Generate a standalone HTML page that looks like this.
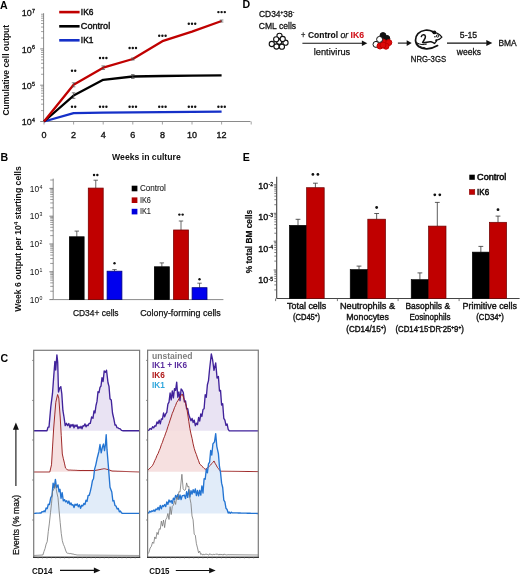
<!DOCTYPE html>
<html><head><meta charset="utf-8"><title>Figure</title>
<style>
html,body{margin:0;padding:0;background:#fff;}
body{width:520px;height:574px;overflow:hidden;}
svg{display:block;font-family:"Liberation Sans", sans-serif;filter:blur(0.3px);}
</style></head>
<body>
<svg width="520" height="574" viewBox="0 0 520 574">
<rect x="0" y="0" width="520" height="574" fill="#fff"/>
<text x="0" y="8.6" font-size="10.6" font-weight="bold" fill="#000">A</text>
<text x="0.6" y="160.6" font-size="10.6" font-weight="bold" fill="#000">B</text>
<text x="0.4" y="361.7" font-size="10.6" font-weight="bold" fill="#000">C</text>
<text x="242.6" y="8.2" font-size="10.6" font-weight="bold" fill="#000">D</text>
<text x="242.8" y="160.8" font-size="10.6" font-weight="bold" fill="#000">E</text>
<line x1="43.60" y1="13.20" x2="43.60" y2="121.50" stroke="#8a8a8a" stroke-width="1"/>
<line x1="43.60" y1="121.50" x2="250.50" y2="121.50" stroke="#8a8a8a" stroke-width="1"/>
<line x1="40.20" y1="121.50" x2="43.60" y2="121.50" stroke="#6a6a6a" stroke-width="0.8"/>
<line x1="41.00" y1="110.57" x2="43.60" y2="110.57" stroke="#6a6a6a" stroke-width="0.6"/>
<line x1="41.00" y1="104.18" x2="43.60" y2="104.18" stroke="#6a6a6a" stroke-width="0.6"/>
<line x1="41.00" y1="99.65" x2="43.60" y2="99.65" stroke="#6a6a6a" stroke-width="0.6"/>
<line x1="41.00" y1="96.13" x2="43.60" y2="96.13" stroke="#6a6a6a" stroke-width="0.6"/>
<line x1="41.00" y1="93.25" x2="43.60" y2="93.25" stroke="#6a6a6a" stroke-width="0.6"/>
<line x1="41.00" y1="90.82" x2="43.60" y2="90.82" stroke="#6a6a6a" stroke-width="0.6"/>
<line x1="41.00" y1="88.72" x2="43.60" y2="88.72" stroke="#6a6a6a" stroke-width="0.6"/>
<line x1="41.00" y1="86.86" x2="43.60" y2="86.86" stroke="#6a6a6a" stroke-width="0.6"/>
<line x1="40.20" y1="85.20" x2="43.60" y2="85.20" stroke="#6a6a6a" stroke-width="0.8"/>
<line x1="41.00" y1="74.27" x2="43.60" y2="74.27" stroke="#6a6a6a" stroke-width="0.6"/>
<line x1="41.00" y1="67.88" x2="43.60" y2="67.88" stroke="#6a6a6a" stroke-width="0.6"/>
<line x1="41.00" y1="63.35" x2="43.60" y2="63.35" stroke="#6a6a6a" stroke-width="0.6"/>
<line x1="41.00" y1="59.83" x2="43.60" y2="59.83" stroke="#6a6a6a" stroke-width="0.6"/>
<line x1="41.00" y1="56.95" x2="43.60" y2="56.95" stroke="#6a6a6a" stroke-width="0.6"/>
<line x1="41.00" y1="54.52" x2="43.60" y2="54.52" stroke="#6a6a6a" stroke-width="0.6"/>
<line x1="41.00" y1="52.42" x2="43.60" y2="52.42" stroke="#6a6a6a" stroke-width="0.6"/>
<line x1="41.00" y1="50.56" x2="43.60" y2="50.56" stroke="#6a6a6a" stroke-width="0.6"/>
<line x1="40.20" y1="48.90" x2="43.60" y2="48.90" stroke="#6a6a6a" stroke-width="0.8"/>
<line x1="41.00" y1="37.97" x2="43.60" y2="37.97" stroke="#6a6a6a" stroke-width="0.6"/>
<line x1="41.00" y1="31.58" x2="43.60" y2="31.58" stroke="#6a6a6a" stroke-width="0.6"/>
<line x1="41.00" y1="27.05" x2="43.60" y2="27.05" stroke="#6a6a6a" stroke-width="0.6"/>
<line x1="41.00" y1="23.53" x2="43.60" y2="23.53" stroke="#6a6a6a" stroke-width="0.6"/>
<line x1="41.00" y1="20.65" x2="43.60" y2="20.65" stroke="#6a6a6a" stroke-width="0.6"/>
<line x1="41.00" y1="18.22" x2="43.60" y2="18.22" stroke="#6a6a6a" stroke-width="0.6"/>
<line x1="41.00" y1="16.12" x2="43.60" y2="16.12" stroke="#6a6a6a" stroke-width="0.6"/>
<line x1="41.00" y1="14.26" x2="43.60" y2="14.26" stroke="#6a6a6a" stroke-width="0.6"/>
<line x1="44.00" y1="121.50" x2="44.00" y2="124.50" stroke="#8a8a8a" stroke-width="0.8"/>
<line x1="73.60" y1="121.50" x2="73.60" y2="124.50" stroke="#8a8a8a" stroke-width="0.8"/>
<line x1="103.20" y1="121.50" x2="103.20" y2="124.50" stroke="#8a8a8a" stroke-width="0.8"/>
<line x1="132.80" y1="121.50" x2="132.80" y2="124.50" stroke="#8a8a8a" stroke-width="0.8"/>
<line x1="162.40" y1="121.50" x2="162.40" y2="124.50" stroke="#8a8a8a" stroke-width="0.8"/>
<line x1="192.00" y1="121.50" x2="192.00" y2="124.50" stroke="#8a8a8a" stroke-width="0.8"/>
<line x1="221.60" y1="121.50" x2="221.60" y2="124.50" stroke="#8a8a8a" stroke-width="0.8"/>
<line x1="251.20" y1="121.50" x2="251.20" y2="124.50" stroke="#8a8a8a" stroke-width="0.8"/>
<text x="44.0" y="137.9" font-size="9.0" font-weight="normal" font-style="normal" text-anchor="middle" fill="#111" stroke="#111" stroke-width="0.35">0</text>
<text x="73.6" y="137.9" font-size="9.0" font-weight="normal" font-style="normal" text-anchor="middle" fill="#111" stroke="#111" stroke-width="0.35">2</text>
<text x="103.2" y="137.9" font-size="9.0" font-weight="normal" font-style="normal" text-anchor="middle" fill="#111" stroke="#111" stroke-width="0.35">4</text>
<text x="132.8" y="137.9" font-size="9.0" font-weight="normal" font-style="normal" text-anchor="middle" fill="#111" stroke="#111" stroke-width="0.35">6</text>
<text x="162.4" y="137.9" font-size="9.0" font-weight="normal" font-style="normal" text-anchor="middle" fill="#111" stroke="#111" stroke-width="0.35">8</text>
<text x="192.0" y="137.9" font-size="9.0" font-weight="normal" font-style="normal" text-anchor="middle" fill="#111" stroke="#111" stroke-width="0.35">10</text>
<text x="221.6" y="137.9" font-size="9.0" font-weight="normal" font-style="normal" text-anchor="middle" fill="#111" stroke="#111" stroke-width="0.35">12</text>
<text x="31.8" y="16.3" font-size="9.0" text-anchor="end" fill="#111" stroke="#111" stroke-width="0.3">10</text>
<text x="32.1" y="12.9" font-size="5.3" fill="#111" stroke="#111" stroke-width="0.3">7</text>
<text x="31.8" y="52.599999999999994" font-size="9.0" text-anchor="end" fill="#111" stroke="#111" stroke-width="0.3">10</text>
<text x="32.1" y="49.199999999999996" font-size="5.3" fill="#111" stroke="#111" stroke-width="0.3">6</text>
<text x="31.8" y="88.89999999999999" font-size="9.0" text-anchor="end" fill="#111" stroke="#111" stroke-width="0.3">10</text>
<text x="32.1" y="85.49999999999999" font-size="5.3" fill="#111" stroke="#111" stroke-width="0.3">5</text>
<text x="31.8" y="125.3" font-size="9.0" text-anchor="end" fill="#111" stroke="#111" stroke-width="0.3">10</text>
<text x="32.1" y="121.89999999999999" font-size="5.3" fill="#111" stroke="#111" stroke-width="0.3">4</text>
<text x="112.1" y="160.1" font-size="9.29" font-weight="bold" font-style="normal" text-anchor="start" fill="#111" textLength="68.6" lengthAdjust="spacingAndGlyphs">Weeks in culture</text>
<text transform="translate(8.6,115.5) rotate(-90)" font-size="9.2" font-weight="bold" fill="#111" textLength="90.6" lengthAdjust="spacingAndGlyphs">Cumulative cell output</text>
<polyline points="44.00,121.50 73.60,113.20 103.20,112.60 132.80,112.30 162.40,112.10 192.00,111.90 221.60,111.70" fill="none" stroke="#1530c8" stroke-width="2.3" stroke-linejoin="round"/>
<polyline points="44.00,121.50 73.60,95.60 103.20,79.80 132.80,76.50 162.40,76.00 192.00,75.70 221.60,75.40" fill="none" stroke="#000000" stroke-width="2.3" stroke-linejoin="round"/>
<polyline points="44.00,121.50 73.60,84.80 103.20,67.70 132.80,59.00 162.40,41.20 192.00,31.70 221.60,21.00" fill="none" stroke="#c00000" stroke-width="2.3" stroke-linejoin="round"/>
<line x1="73.60" y1="82.80" x2="73.60" y2="86.80" stroke="#555" stroke-width="0.7"/>
<line x1="71.80" y1="82.80" x2="75.40" y2="82.80" stroke="#555" stroke-width="0.7"/>
<line x1="71.80" y1="86.80" x2="75.40" y2="86.80" stroke="#555" stroke-width="0.7"/>
<line x1="103.20" y1="65.90" x2="103.20" y2="69.50" stroke="#555" stroke-width="0.7"/>
<line x1="101.40" y1="65.90" x2="105.00" y2="65.90" stroke="#555" stroke-width="0.7"/>
<line x1="101.40" y1="69.50" x2="105.00" y2="69.50" stroke="#555" stroke-width="0.7"/>
<line x1="132.80" y1="58.00" x2="132.80" y2="60.00" stroke="#555" stroke-width="0.7"/>
<line x1="131.00" y1="58.00" x2="134.60" y2="58.00" stroke="#555" stroke-width="0.7"/>
<line x1="131.00" y1="60.00" x2="134.60" y2="60.00" stroke="#555" stroke-width="0.7"/>
<line x1="221.60" y1="20.00" x2="221.60" y2="22.00" stroke="#555" stroke-width="0.7"/>
<line x1="219.80" y1="20.00" x2="223.40" y2="20.00" stroke="#555" stroke-width="0.7"/>
<line x1="219.80" y1="22.00" x2="223.40" y2="22.00" stroke="#555" stroke-width="0.7"/>
<line x1="73.60" y1="92.80" x2="73.60" y2="98.40" stroke="#555" stroke-width="0.7"/>
<line x1="71.80" y1="92.80" x2="75.40" y2="92.80" stroke="#555" stroke-width="0.7"/>
<line x1="71.80" y1="98.40" x2="75.40" y2="98.40" stroke="#555" stroke-width="0.7"/>
<line x1="132.80" y1="74.50" x2="132.80" y2="78.50" stroke="#555" stroke-width="0.7"/>
<line x1="131.00" y1="74.50" x2="134.60" y2="74.50" stroke="#555" stroke-width="0.7"/>
<line x1="131.00" y1="78.50" x2="134.60" y2="78.50" stroke="#555" stroke-width="0.7"/>
<circle cx="72.00" cy="70.80" r="1.2" fill="#111"/>
<circle cx="75.20" cy="70.80" r="1.2" fill="#111"/>
<circle cx="100.00" cy="58.00" r="1.2" fill="#111"/>
<circle cx="103.20" cy="58.00" r="1.2" fill="#111"/>
<circle cx="106.40" cy="58.00" r="1.2" fill="#111"/>
<circle cx="129.60" cy="48.00" r="1.2" fill="#111"/>
<circle cx="132.80" cy="48.00" r="1.2" fill="#111"/>
<circle cx="136.00" cy="48.00" r="1.2" fill="#111"/>
<circle cx="159.20" cy="35.80" r="1.2" fill="#111"/>
<circle cx="162.40" cy="35.80" r="1.2" fill="#111"/>
<circle cx="165.60" cy="35.80" r="1.2" fill="#111"/>
<circle cx="188.80" cy="23.70" r="1.2" fill="#111"/>
<circle cx="192.00" cy="23.70" r="1.2" fill="#111"/>
<circle cx="195.20" cy="23.70" r="1.2" fill="#111"/>
<circle cx="218.40" cy="12.10" r="1.2" fill="#111"/>
<circle cx="221.60" cy="12.10" r="1.2" fill="#111"/>
<circle cx="224.80" cy="12.10" r="1.2" fill="#111"/>
<circle cx="72.00" cy="106.80" r="1.2" fill="#111"/>
<circle cx="75.20" cy="106.80" r="1.2" fill="#111"/>
<circle cx="100.00" cy="106.80" r="1.2" fill="#111"/>
<circle cx="103.20" cy="106.80" r="1.2" fill="#111"/>
<circle cx="106.40" cy="106.80" r="1.2" fill="#111"/>
<circle cx="129.60" cy="106.80" r="1.2" fill="#111"/>
<circle cx="132.80" cy="106.80" r="1.2" fill="#111"/>
<circle cx="136.00" cy="106.80" r="1.2" fill="#111"/>
<circle cx="159.20" cy="106.80" r="1.2" fill="#111"/>
<circle cx="162.40" cy="106.80" r="1.2" fill="#111"/>
<circle cx="165.60" cy="106.80" r="1.2" fill="#111"/>
<circle cx="188.80" cy="106.80" r="1.2" fill="#111"/>
<circle cx="192.00" cy="106.80" r="1.2" fill="#111"/>
<circle cx="195.20" cy="106.80" r="1.2" fill="#111"/>
<circle cx="218.40" cy="106.80" r="1.2" fill="#111"/>
<circle cx="221.60" cy="106.80" r="1.2" fill="#111"/>
<circle cx="224.80" cy="106.80" r="1.2" fill="#111"/>
<line x1="59.20" y1="12.10" x2="79.60" y2="12.10" stroke="#c00000" stroke-width="2.6"/>
<text x="80.8" y="15.2" font-size="9.5" font-weight="normal" font-style="normal" text-anchor="start" fill="#111" textLength="12.6" lengthAdjust="spacingAndGlyphs" stroke="#111" stroke-width="0.45">IK6</text>
<line x1="59.20" y1="26.30" x2="79.60" y2="26.30" stroke="#000000" stroke-width="2.6"/>
<text x="80.8" y="29.400000000000002" font-size="9.5" font-weight="normal" font-style="normal" text-anchor="start" fill="#111" textLength="29.4" lengthAdjust="spacingAndGlyphs" stroke="#111" stroke-width="0.45">Control</text>
<line x1="59.20" y1="40.30" x2="79.60" y2="40.30" stroke="#1530c8" stroke-width="2.6"/>
<text x="80.8" y="43.4" font-size="9.5" font-weight="normal" font-style="normal" text-anchor="start" fill="#111" textLength="12.6" lengthAdjust="spacingAndGlyphs" stroke="#111" stroke-width="0.45">IK1</text>
<line x1="53.20" y1="178.60" x2="53.20" y2="299.60" stroke="#8a8a8a" stroke-width="1"/>
<line x1="53.20" y1="299.60" x2="223.40" y2="299.60" stroke="#8a8a8a" stroke-width="1"/>
<line x1="49.40" y1="299.60" x2="53.20" y2="299.60" stroke="#5a5a5a" stroke-width="0.8"/>
<line x1="50.20" y1="291.23" x2="53.20" y2="291.23" stroke="#5a5a5a" stroke-width="0.6"/>
<line x1="50.20" y1="286.34" x2="53.20" y2="286.34" stroke="#5a5a5a" stroke-width="0.6"/>
<line x1="50.20" y1="282.86" x2="53.20" y2="282.86" stroke="#5a5a5a" stroke-width="0.6"/>
<line x1="50.20" y1="280.17" x2="53.20" y2="280.17" stroke="#5a5a5a" stroke-width="0.6"/>
<line x1="50.20" y1="277.97" x2="53.20" y2="277.97" stroke="#5a5a5a" stroke-width="0.6"/>
<line x1="50.20" y1="276.11" x2="53.20" y2="276.11" stroke="#5a5a5a" stroke-width="0.6"/>
<line x1="50.20" y1="274.49" x2="53.20" y2="274.49" stroke="#5a5a5a" stroke-width="0.6"/>
<line x1="50.20" y1="273.07" x2="53.20" y2="273.07" stroke="#5a5a5a" stroke-width="0.6"/>
<line x1="49.40" y1="271.80" x2="53.20" y2="271.80" stroke="#5a5a5a" stroke-width="0.8"/>
<line x1="50.20" y1="263.43" x2="53.20" y2="263.43" stroke="#5a5a5a" stroke-width="0.6"/>
<line x1="50.20" y1="258.54" x2="53.20" y2="258.54" stroke="#5a5a5a" stroke-width="0.6"/>
<line x1="50.20" y1="255.06" x2="53.20" y2="255.06" stroke="#5a5a5a" stroke-width="0.6"/>
<line x1="50.20" y1="252.37" x2="53.20" y2="252.37" stroke="#5a5a5a" stroke-width="0.6"/>
<line x1="50.20" y1="250.17" x2="53.20" y2="250.17" stroke="#5a5a5a" stroke-width="0.6"/>
<line x1="50.20" y1="248.31" x2="53.20" y2="248.31" stroke="#5a5a5a" stroke-width="0.6"/>
<line x1="50.20" y1="246.69" x2="53.20" y2="246.69" stroke="#5a5a5a" stroke-width="0.6"/>
<line x1="50.20" y1="245.27" x2="53.20" y2="245.27" stroke="#5a5a5a" stroke-width="0.6"/>
<line x1="49.40" y1="244.00" x2="53.20" y2="244.00" stroke="#5a5a5a" stroke-width="0.8"/>
<line x1="50.20" y1="235.63" x2="53.20" y2="235.63" stroke="#5a5a5a" stroke-width="0.6"/>
<line x1="50.20" y1="230.74" x2="53.20" y2="230.74" stroke="#5a5a5a" stroke-width="0.6"/>
<line x1="50.20" y1="227.26" x2="53.20" y2="227.26" stroke="#5a5a5a" stroke-width="0.6"/>
<line x1="50.20" y1="224.57" x2="53.20" y2="224.57" stroke="#5a5a5a" stroke-width="0.6"/>
<line x1="50.20" y1="222.37" x2="53.20" y2="222.37" stroke="#5a5a5a" stroke-width="0.6"/>
<line x1="50.20" y1="220.51" x2="53.20" y2="220.51" stroke="#5a5a5a" stroke-width="0.6"/>
<line x1="50.20" y1="218.89" x2="53.20" y2="218.89" stroke="#5a5a5a" stroke-width="0.6"/>
<line x1="50.20" y1="217.47" x2="53.20" y2="217.47" stroke="#5a5a5a" stroke-width="0.6"/>
<line x1="49.40" y1="216.20" x2="53.20" y2="216.20" stroke="#5a5a5a" stroke-width="0.8"/>
<line x1="50.20" y1="207.83" x2="53.20" y2="207.83" stroke="#5a5a5a" stroke-width="0.6"/>
<line x1="50.20" y1="202.94" x2="53.20" y2="202.94" stroke="#5a5a5a" stroke-width="0.6"/>
<line x1="50.20" y1="199.46" x2="53.20" y2="199.46" stroke="#5a5a5a" stroke-width="0.6"/>
<line x1="50.20" y1="196.77" x2="53.20" y2="196.77" stroke="#5a5a5a" stroke-width="0.6"/>
<line x1="50.20" y1="194.57" x2="53.20" y2="194.57" stroke="#5a5a5a" stroke-width="0.6"/>
<line x1="50.20" y1="192.71" x2="53.20" y2="192.71" stroke="#5a5a5a" stroke-width="0.6"/>
<line x1="50.20" y1="191.09" x2="53.20" y2="191.09" stroke="#5a5a5a" stroke-width="0.6"/>
<line x1="50.20" y1="189.67" x2="53.20" y2="189.67" stroke="#5a5a5a" stroke-width="0.6"/>
<line x1="49.40" y1="188.40" x2="53.20" y2="188.40" stroke="#5a5a5a" stroke-width="0.8"/>
<line x1="50.20" y1="180.03" x2="53.20" y2="180.03" stroke="#5a5a5a" stroke-width="0.6"/>
<text x="39.2" y="302.8" font-size="8.4" text-anchor="end" fill="#111">10</text>
<text x="39.5" y="299.8" font-size="5.2" fill="#111">0</text>
<text x="39.2" y="275.0" font-size="8.4" text-anchor="end" fill="#111">10</text>
<text x="39.5" y="272.0" font-size="5.2" fill="#111">1</text>
<text x="39.2" y="247.20000000000002" font-size="8.4" text-anchor="end" fill="#111">10</text>
<text x="39.5" y="244.20000000000002" font-size="5.2" fill="#111">2</text>
<text x="39.2" y="219.4" font-size="8.4" text-anchor="end" fill="#111">10</text>
<text x="39.5" y="216.4" font-size="5.2" fill="#111">3</text>
<text x="39.2" y="191.60000000000002" font-size="8.4" text-anchor="end" fill="#111">10</text>
<text x="39.5" y="188.60000000000002" font-size="5.2" fill="#111">4</text>
<line x1="76.80" y1="231.10" x2="76.80" y2="236.80" stroke="#444" stroke-width="0.8"/>
<line x1="74.60" y1="231.10" x2="79.00" y2="231.10" stroke="#444" stroke-width="0.8"/>
<rect x="69.50" y="236.80" width="14.60" height="62.80" fill="#000" stroke="#000" stroke-width="0.8"/>
<line x1="95.75" y1="180.20" x2="95.75" y2="188.10" stroke="#444" stroke-width="0.8"/>
<line x1="93.55" y1="180.20" x2="97.95" y2="180.20" stroke="#444" stroke-width="0.8"/>
<rect x="88.30" y="188.10" width="14.90" height="111.50" fill="#c00000" stroke="#7a0000" stroke-width="0.8"/>
<line x1="114.50" y1="269.60" x2="114.50" y2="271.20" stroke="#444" stroke-width="0.8"/>
<line x1="112.30" y1="269.60" x2="116.70" y2="269.60" stroke="#444" stroke-width="0.8"/>
<rect x="107.10" y="271.20" width="14.80" height="28.40" fill="#0000ee" stroke="#000080" stroke-width="0.8"/>
<line x1="161.85" y1="262.90" x2="161.85" y2="266.80" stroke="#444" stroke-width="0.8"/>
<line x1="159.65" y1="262.90" x2="164.05" y2="262.90" stroke="#444" stroke-width="0.8"/>
<rect x="154.40" y="266.80" width="14.90" height="32.80" fill="#000" stroke="#000" stroke-width="0.8"/>
<line x1="181.00" y1="221.00" x2="181.00" y2="230.00" stroke="#444" stroke-width="0.8"/>
<line x1="178.80" y1="221.00" x2="183.20" y2="221.00" stroke="#444" stroke-width="0.8"/>
<rect x="173.60" y="230.00" width="14.80" height="69.60" fill="#c00000" stroke="#7a0000" stroke-width="0.8"/>
<line x1="199.55" y1="283.20" x2="199.55" y2="287.70" stroke="#444" stroke-width="0.8"/>
<line x1="197.35" y1="283.20" x2="201.75" y2="283.20" stroke="#444" stroke-width="0.8"/>
<rect x="192.10" y="287.70" width="14.90" height="11.90" fill="#0000ee" stroke="#000080" stroke-width="0.8"/>
<circle cx="94.05" cy="175.00" r="1.2" fill="#111"/>
<circle cx="97.35" cy="175.00" r="1.2" fill="#111"/>
<circle cx="114.50" cy="263.20" r="1.2" fill="#111"/>
<circle cx="179.35" cy="214.60" r="1.2" fill="#111"/>
<circle cx="182.65" cy="214.60" r="1.2" fill="#111"/>
<circle cx="199.50" cy="279.30" r="1.2" fill="#111"/>
<rect x="131.70" y="185.70" width="5.70" height="5.60" fill="#000"/>
<text x="139.9" y="191.1" font-size="8.42" font-weight="normal" font-style="normal" text-anchor="start" fill="#222" textLength="26.0" lengthAdjust="spacingAndGlyphs" stroke="#222" stroke-width="0.1">Control</text>
<rect x="131.70" y="197.40" width="5.70" height="5.60" fill="#b00000"/>
<text x="139.9" y="202.79999999999998" font-size="8.42" font-weight="normal" font-style="normal" text-anchor="start" fill="#222" textLength="11.0" lengthAdjust="spacingAndGlyphs" stroke="#222" stroke-width="0.1">IK6</text>
<rect x="131.70" y="208.80" width="5.70" height="5.60" fill="#0000dd"/>
<text x="139.9" y="214.2" font-size="8.42" font-weight="normal" font-style="normal" text-anchor="start" fill="#222" textLength="11.0" lengthAdjust="spacingAndGlyphs" stroke="#222" stroke-width="0.1">IK1</text>
<text x="72.9" y="315.7" font-size="9.29" font-weight="normal" font-style="normal" text-anchor="start" fill="#111" textLength="45.7" lengthAdjust="spacingAndGlyphs" stroke="#111" stroke-width="0.25">CD34+ cells</text>
<text x="140.2" y="316.4" font-size="9.29" font-weight="normal" font-style="normal" text-anchor="start" fill="#111" textLength="80.6" lengthAdjust="spacingAndGlyphs" stroke="#111" stroke-width="0.25">Colony-forming cells</text>
<text transform="translate(21.4,311.8) rotate(-90)" font-size="8.3" font-weight="bold" fill="#111" textLength="145.6" lengthAdjust="spacingAndGlyphs">Week 6 output per 10<tspan dy="-3" font-size="5.5">4</tspan><tspan dy="3"> starting cells</tspan></text>
<line x1="276.70" y1="176.80" x2="276.70" y2="298.50" stroke="#444" stroke-width="1.1"/>
<line x1="276.70" y1="298.50" x2="519.60" y2="298.50" stroke="#444" stroke-width="1.1"/>
<line x1="273.70" y1="184.80" x2="276.70" y2="184.80" stroke="#555" stroke-width="0.9"/>
<line x1="274.30" y1="204.72" x2="276.70" y2="204.72" stroke="#555" stroke-width="0.75"/>
<line x1="274.30" y1="199.70" x2="276.70" y2="199.70" stroke="#555" stroke-width="0.75"/>
<line x1="274.30" y1="196.14" x2="276.70" y2="196.14" stroke="#555" stroke-width="0.75"/>
<line x1="274.30" y1="193.38" x2="276.70" y2="193.38" stroke="#555" stroke-width="0.75"/>
<line x1="274.30" y1="191.12" x2="276.70" y2="191.12" stroke="#555" stroke-width="0.75"/>
<line x1="274.30" y1="189.21" x2="276.70" y2="189.21" stroke="#555" stroke-width="0.75"/>
<line x1="274.30" y1="187.56" x2="276.70" y2="187.56" stroke="#555" stroke-width="0.75"/>
<line x1="274.30" y1="186.10" x2="276.70" y2="186.10" stroke="#555" stroke-width="0.75"/>
<line x1="273.70" y1="213.30" x2="276.70" y2="213.30" stroke="#555" stroke-width="0.9"/>
<line x1="274.30" y1="233.22" x2="276.70" y2="233.22" stroke="#555" stroke-width="0.75"/>
<line x1="274.30" y1="228.20" x2="276.70" y2="228.20" stroke="#555" stroke-width="0.75"/>
<line x1="274.30" y1="224.64" x2="276.70" y2="224.64" stroke="#555" stroke-width="0.75"/>
<line x1="274.30" y1="221.88" x2="276.70" y2="221.88" stroke="#555" stroke-width="0.75"/>
<line x1="274.30" y1="219.62" x2="276.70" y2="219.62" stroke="#555" stroke-width="0.75"/>
<line x1="274.30" y1="217.71" x2="276.70" y2="217.71" stroke="#555" stroke-width="0.75"/>
<line x1="274.30" y1="216.06" x2="276.70" y2="216.06" stroke="#555" stroke-width="0.75"/>
<line x1="274.30" y1="214.60" x2="276.70" y2="214.60" stroke="#555" stroke-width="0.75"/>
<line x1="273.70" y1="241.20" x2="276.70" y2="241.20" stroke="#555" stroke-width="0.9"/>
<line x1="274.30" y1="261.12" x2="276.70" y2="261.12" stroke="#555" stroke-width="0.75"/>
<line x1="274.30" y1="256.10" x2="276.70" y2="256.10" stroke="#555" stroke-width="0.75"/>
<line x1="274.30" y1="252.54" x2="276.70" y2="252.54" stroke="#555" stroke-width="0.75"/>
<line x1="274.30" y1="249.78" x2="276.70" y2="249.78" stroke="#555" stroke-width="0.75"/>
<line x1="274.30" y1="247.52" x2="276.70" y2="247.52" stroke="#555" stroke-width="0.75"/>
<line x1="274.30" y1="245.61" x2="276.70" y2="245.61" stroke="#555" stroke-width="0.75"/>
<line x1="274.30" y1="243.96" x2="276.70" y2="243.96" stroke="#555" stroke-width="0.75"/>
<line x1="274.30" y1="242.50" x2="276.70" y2="242.50" stroke="#555" stroke-width="0.75"/>
<line x1="273.70" y1="270.00" x2="276.70" y2="270.00" stroke="#555" stroke-width="0.9"/>
<line x1="274.30" y1="289.92" x2="276.70" y2="289.92" stroke="#555" stroke-width="0.75"/>
<line x1="274.30" y1="284.90" x2="276.70" y2="284.90" stroke="#555" stroke-width="0.75"/>
<line x1="274.30" y1="281.34" x2="276.70" y2="281.34" stroke="#555" stroke-width="0.75"/>
<line x1="274.30" y1="278.58" x2="276.70" y2="278.58" stroke="#555" stroke-width="0.75"/>
<line x1="274.30" y1="276.32" x2="276.70" y2="276.32" stroke="#555" stroke-width="0.75"/>
<line x1="274.30" y1="274.41" x2="276.70" y2="274.41" stroke="#555" stroke-width="0.75"/>
<line x1="274.30" y1="272.76" x2="276.70" y2="272.76" stroke="#555" stroke-width="0.75"/>
<line x1="274.30" y1="271.30" x2="276.70" y2="271.30" stroke="#555" stroke-width="0.75"/>
<line x1="275.60" y1="298.50" x2="275.60" y2="301.10" stroke="#555" stroke-width="0.8"/>
<line x1="337.40" y1="298.50" x2="337.40" y2="301.10" stroke="#555" stroke-width="0.8"/>
<line x1="398.10" y1="298.50" x2="398.10" y2="301.10" stroke="#555" stroke-width="0.8"/>
<line x1="459.10" y1="298.50" x2="459.10" y2="301.10" stroke="#555" stroke-width="0.8"/>
<text x="268.1" y="189.2" font-size="8.9" text-anchor="end" fill="#111" stroke="#111" stroke-width="0.4" textLength="9.9" lengthAdjust="spacingAndGlyphs">10</text>
<text x="268.6" y="186.39999999999998" font-size="6.2" fill="#111" stroke="#111" stroke-width="0.3" textLength="4.6" lengthAdjust="spacingAndGlyphs">-2</text>
<text x="268.1" y="220.2" font-size="8.9" text-anchor="end" fill="#111" stroke="#111" stroke-width="0.4" textLength="9.9" lengthAdjust="spacingAndGlyphs">10</text>
<text x="268.6" y="217.39999999999998" font-size="6.2" fill="#111" stroke="#111" stroke-width="0.3" textLength="4.6" lengthAdjust="spacingAndGlyphs">-3</text>
<text x="268.1" y="251.5" font-size="8.9" text-anchor="end" fill="#111" stroke="#111" stroke-width="0.4" textLength="9.9" lengthAdjust="spacingAndGlyphs">10</text>
<text x="268.6" y="248.7" font-size="6.2" fill="#111" stroke="#111" stroke-width="0.3" textLength="4.6" lengthAdjust="spacingAndGlyphs">-4</text>
<text x="268.1" y="283.4" font-size="8.9" text-anchor="end" fill="#111" stroke="#111" stroke-width="0.4" textLength="9.9" lengthAdjust="spacingAndGlyphs">10</text>
<text x="268.6" y="280.59999999999997" font-size="6.2" fill="#111" stroke="#111" stroke-width="0.3" textLength="4.6" lengthAdjust="spacingAndGlyphs">-5</text>
<line x1="298.00" y1="219.30" x2="298.00" y2="225.30" stroke="#333" stroke-width="0.8"/>
<line x1="295.60" y1="219.30" x2="300.40" y2="219.30" stroke="#333" stroke-width="0.8"/>
<line x1="315.40" y1="183.20" x2="315.40" y2="187.70" stroke="#333" stroke-width="0.8"/>
<line x1="313.00" y1="183.20" x2="317.80" y2="183.20" stroke="#333" stroke-width="0.8"/>
<rect x="289.40" y="225.30" width="17.20" height="73.20" fill="#000" stroke="#000" stroke-width="0.6"/>
<rect x="306.60" y="187.70" width="17.60" height="110.80" fill="#c00000" stroke="#6a0000" stroke-width="0.7"/>
<circle cx="312.90" cy="174.40" r="1.4" fill="#111"/>
<circle cx="317.90" cy="174.40" r="1.4" fill="#111"/>
<line x1="359.00" y1="266.10" x2="359.00" y2="269.50" stroke="#333" stroke-width="0.8"/>
<line x1="356.60" y1="266.10" x2="361.40" y2="266.10" stroke="#333" stroke-width="0.8"/>
<line x1="376.65" y1="213.50" x2="376.65" y2="219.20" stroke="#333" stroke-width="0.8"/>
<line x1="374.25" y1="213.50" x2="379.05" y2="213.50" stroke="#333" stroke-width="0.8"/>
<rect x="350.20" y="269.50" width="17.60" height="29.00" fill="#000" stroke="#000" stroke-width="0.6"/>
<rect x="367.80" y="219.20" width="17.70" height="79.30" fill="#c00000" stroke="#6a0000" stroke-width="0.7"/>
<circle cx="376.65" cy="207.50" r="1.4" fill="#111"/>
<line x1="419.90" y1="272.90" x2="419.90" y2="279.60" stroke="#333" stroke-width="0.8"/>
<line x1="417.50" y1="272.90" x2="422.30" y2="272.90" stroke="#333" stroke-width="0.8"/>
<line x1="437.30" y1="202.40" x2="437.30" y2="226.10" stroke="#333" stroke-width="0.8"/>
<line x1="434.90" y1="202.40" x2="439.70" y2="202.40" stroke="#333" stroke-width="0.8"/>
<rect x="411.20" y="279.60" width="17.40" height="18.90" fill="#000" stroke="#000" stroke-width="0.6"/>
<rect x="428.60" y="226.10" width="17.40" height="72.40" fill="#c00000" stroke="#6a0000" stroke-width="0.7"/>
<circle cx="434.80" cy="194.80" r="1.4" fill="#111"/>
<circle cx="439.80" cy="194.80" r="1.4" fill="#111"/>
<line x1="480.85" y1="246.40" x2="480.85" y2="252.10" stroke="#333" stroke-width="0.8"/>
<line x1="478.45" y1="246.40" x2="483.25" y2="246.40" stroke="#333" stroke-width="0.8"/>
<line x1="498.00" y1="216.10" x2="498.00" y2="222.30" stroke="#333" stroke-width="0.8"/>
<line x1="495.60" y1="216.10" x2="500.40" y2="216.10" stroke="#333" stroke-width="0.8"/>
<rect x="472.30" y="252.10" width="17.10" height="46.40" fill="#000" stroke="#000" stroke-width="0.6"/>
<rect x="489.40" y="222.30" width="17.20" height="76.20" fill="#c00000" stroke="#6a0000" stroke-width="0.7"/>
<circle cx="498.00" cy="209.70" r="1.4" fill="#111"/>
<rect x="469.30" y="174.70" width="5.50" height="5.10" fill="#000"/>
<rect x="469.30" y="189.50" width="5.50" height="5.00" fill="#c00000" stroke="#800000" stroke-width="0.5"/>
<text x="477.1" y="180.4" font-size="9.5" font-weight="normal" font-style="normal" text-anchor="start" fill="#111" textLength="29.2" lengthAdjust="spacingAndGlyphs" stroke="#111" stroke-width="0.6">Control</text>
<text x="477.1" y="194.7" font-size="9.5" font-weight="normal" font-style="normal" text-anchor="start" fill="#111" textLength="12.0" lengthAdjust="spacingAndGlyphs" stroke="#111" stroke-width="0.6">IK6</text>
<text transform="translate(251.6,273.2) rotate(-90)" font-size="8.9" font-weight="bold" fill="#111" stroke="#111" stroke-width="0.2" textLength="63.4" lengthAdjust="spacingAndGlyphs">% total BM cells</text>
<text x="287.0" y="309.4" font-size="9.29" fill="#111" stroke="#111" stroke-width="0.4" textLength="39.3" lengthAdjust="spacingAndGlyphs">Total cells</text>
<text x="293.0" y="319.6" font-size="8.21" fill="#111" stroke="#111" stroke-width="0.4" textLength="27.0" lengthAdjust="spacingAndGlyphs">(CD45<tspan dy="-2.6" font-size="5">+</tspan><tspan dy="2.6">)</tspan></text>
<text x="340.0" y="309.4" font-size="9.29" fill="#111" stroke="#111" stroke-width="0.4" textLength="55.0" lengthAdjust="spacingAndGlyphs">Neutrophils &amp;</text>
<text x="346.3" y="320.3" font-size="9.29" fill="#111" stroke="#111" stroke-width="0.4" textLength="42.5" lengthAdjust="spacingAndGlyphs">Monocytes</text>
<text x="346.3" y="331.6" font-size="8.21" fill="#111" stroke="#111" stroke-width="0.4" textLength="40.0" lengthAdjust="spacingAndGlyphs">(CD14/15<tspan dy="-2.6" font-size="5">+</tspan><tspan dy="2.6">)</tspan></text>
<text x="405.5" y="309.4" font-size="9.29" fill="#111" stroke="#111" stroke-width="0.4" textLength="44.5" lengthAdjust="spacingAndGlyphs">Basophils &amp;</text>
<text x="409.5" y="320.3" font-size="9.29" fill="#111" stroke="#111" stroke-width="0.4" textLength="41.0" lengthAdjust="spacingAndGlyphs">Eosinophils</text>
<text x="395.5" y="331.6" font-size="8.21" fill="#111" stroke="#111" stroke-width="0.4" textLength="68.3" lengthAdjust="spacingAndGlyphs">(CD14<tspan dy="-2.6" font-size="5">-</tspan><tspan dy="2.6">15</tspan><tspan dy="-2.6" font-size="5">-</tspan><tspan dy="2.6">DR</tspan><tspan dy="-2.6" font-size="5">-</tspan><tspan dy="2.6">25</tspan><tspan dy="-2.6" font-size="5">+</tspan><tspan dy="2.6">9</tspan><tspan dy="-2.6" font-size="5">+</tspan><tspan dy="2.6">)</tspan></text>
<text x="462.5" y="309.4" font-size="9.29" fill="#111" stroke="#111" stroke-width="0.4" textLength="54.5" lengthAdjust="spacingAndGlyphs">Primitive cells</text>
<text x="476.3" y="319.6" font-size="8.21" fill="#111" stroke="#111" stroke-width="0.4" textLength="27.5" lengthAdjust="spacingAndGlyphs">(CD34<tspan dy="-2.6" font-size="5">+</tspan><tspan dy="2.6">)</tspan></text>
<text x="259.0" y="16.5" font-size="9.1" fill="#111" stroke="#111" stroke-width="0.3" textLength="35.2" lengthAdjust="spacingAndGlyphs">CD34<tspan dy="-3" font-size="5">+</tspan><tspan dy="3">38</tspan><tspan dy="-3" font-size="5">-</tspan></text>
<text x="258.8" y="28.8" font-size="9.29" font-weight="normal" font-style="normal" text-anchor="start" fill="#111" textLength="37.3" lengthAdjust="spacingAndGlyphs" stroke="#111" stroke-width="0.3">CML cells</text>
<circle cx="279.5" cy="35.9" r="2.6" fill="#fff" stroke="#111" stroke-width="1.1"/>
<circle cx="279.2" cy="41.8" r="2.6" fill="#fff" stroke="#111" stroke-width="1.1"/>
<circle cx="271.8" cy="44.0" r="2.6" fill="#fff" stroke="#111" stroke-width="1.1"/>
<circle cx="285.5" cy="42.7" r="2.6" fill="#fff" stroke="#111" stroke-width="1.1"/>
<circle cx="276.2" cy="39.3" r="2.6" fill="#fff" stroke="#111" stroke-width="1.1"/>
<circle cx="282.7" cy="39.0" r="2.6" fill="#fff" stroke="#111" stroke-width="1.1"/>
<circle cx="276.5" cy="46.5" r="2.6" fill="#fff" stroke="#111" stroke-width="1.1"/>
<circle cx="281.9" cy="46.7" r="2.6" fill="#fff" stroke="#111" stroke-width="1.1"/>
<g font-size="9.2" fill="#111" stroke="#111" stroke-width="0.25"><text x="301.0" y="37.5" textLength="4.4" lengthAdjust="spacingAndGlyphs">+</text><text x="307.9" y="37.5" font-weight="bold" stroke-width="0.1" textLength="30.2" lengthAdjust="spacingAndGlyphs">Control</text><text x="340.4" y="37.5" font-style="italic" textLength="7.8" lengthAdjust="spacingAndGlyphs">or</text><text x="350.5" y="37.5" font-weight="bold" fill="#d01018" stroke="#d01018" stroke-width="0.1" textLength="13.5" lengthAdjust="spacingAndGlyphs">IK6</text></g>
<line x1="302.40" y1="43.20" x2="362.40" y2="43.20" stroke="#111" stroke-width="1.1"/>
<polygon points="367.30,43.20 361.90,40.40 361.90,46.00" fill="#111"/>
<text x="313.8" y="55.0" font-size="9.29" font-weight="normal" font-style="normal" text-anchor="start" fill="#111" textLength="36.4" lengthAdjust="spacingAndGlyphs" stroke="#111" stroke-width="0.25">lentivirus</text>
<circle cx="383.0" cy="35.6" r="3.0" fill="#111" stroke="#111" stroke-width="1.0"/>
<circle cx="386.8" cy="38.4" r="3.0" fill="#111" stroke="#111" stroke-width="1.0"/>
<circle cx="376.0" cy="44.4" r="3.0" fill="#fff" stroke="#111" stroke-width="1.0"/>
<circle cx="383.0" cy="42.0" r="3.0" fill="#dd0a0a" stroke="#c00000" stroke-width="1.0"/>
<circle cx="388.8" cy="42.6" r="3.0" fill="#dd0a0a" stroke="#c00000" stroke-width="1.0"/>
<circle cx="380.0" cy="46.0" r="3.0" fill="#dd0a0a" stroke="#c00000" stroke-width="1.0"/>
<circle cx="386.0" cy="46.2" r="3.0" fill="#dd0a0a" stroke="#c00000" stroke-width="1.0"/>
<circle cx="383.0" cy="45.0" r="3.0" fill="#dd0a0a" stroke="#c00000" stroke-width="1.0"/>
<circle cx="379.6" cy="39.4" r="3.0" fill="#fff" stroke="#111" stroke-width="1.0"/>
<line x1="397.90" y1="43.10" x2="407.20" y2="43.10" stroke="#111" stroke-width="1.1"/>
<polygon points="411.70,43.10 406.70,40.30 406.70,45.90" fill="#111"/>
<g fill="none" stroke="#111" stroke-linecap="round" stroke-linejoin="round"><path d="M432.6,31.6 C428.6,29.4 421.8,29.6 418.0,33.6 C414.6,37.2 414.6,43.4 418.6,46.6 C422.6,49.8 430.6,49.8 437.6,45.6" stroke-width="1.7"/><path d="M416.6,42.4 C417.6,45.8 421.0,47.6 425.0,47.8" stroke-width="0.9"/><path d="M421.3,36.6 C421.9,34.6 424.9,34.0 425.4,36.4 C425.8,38.6 423.4,40.4 422.6,42.6 C425.4,43.2 428.2,41.2 431.0,41.8 C432.6,42.2 433.6,42.8 434.6,43.4" stroke-width="1.5"/><path d="M417.6,43.2 C420.4,44.8 423.6,45.0 426.4,44.2" stroke-width="1.0"/><path d="M432.4,32.2 C436.0,32.4 439.6,34.2 441.9,37.2 C440.6,38.8 438.8,39.8 436.8,40.0 C436.4,41.6 435.4,42.8 434.4,43.4" stroke-width="1.2"/></g><circle cx="434.4" cy="32.4" r="1.9" fill="#111"/><circle cx="437.6" cy="36.0" r="1.2" fill="#fff" stroke="#111" stroke-width="0.9"/><circle cx="436.3" cy="40.4" r="1.1" fill="#111"/><circle cx="434.9" cy="36.8" r="0.8" fill="#111"/>
<text x="410.8" y="62.1" font-size="9.29" font-weight="normal" font-style="normal" text-anchor="start" fill="#111" textLength="35.3" lengthAdjust="spacingAndGlyphs" stroke="#111" stroke-width="0.3">NRG-3GS</text>
<line x1="447.00" y1="43.10" x2="486.80" y2="43.10" stroke="#111" stroke-width="1.1"/>
<polygon points="492.30,43.10 486.30,40.10 486.30,46.10" fill="#111"/>
<text x="459.8" y="37.7" font-size="9.29" font-weight="normal" font-style="normal" text-anchor="start" fill="#111" textLength="17.4" lengthAdjust="spacingAndGlyphs" stroke="#111" stroke-width="0.3">5-15</text>
<text x="456.8" y="55.4" font-size="9.29" font-weight="normal" font-style="normal" text-anchor="start" fill="#111" textLength="24.2" lengthAdjust="spacingAndGlyphs" stroke="#111" stroke-width="0.3">weeks</text>
<text x="498.4" y="45.9" font-size="9.29" font-weight="normal" font-style="normal" text-anchor="start" fill="#111" textLength="18.3" lengthAdjust="spacingAndGlyphs" stroke="#111" stroke-width="0.3">BMA</text>
<path d="M33.80,430.70 L34.82,430.70 L35.83,430.70 L36.85,430.70 L37.86,430.70 L38.88,430.70 L39.89,430.70 L40.91,430.70 L41.92,430.70 L42.94,430.70 L43.95,430.70 L44.97,430.70 L45.98,430.70 L47.00,430.70 L48.00,427.08 L49.00,427.08 L50.80,406.76 L52.50,393.43 L53.80,375.43 L54.90,361.35 L55.70,370.02 L56.90,354.85 L57.70,362.32 L58.50,391.96 L59.60,388.22 L60.80,386.63 L61.80,393.77 L62.90,410.46 L64.00,417.01 L65.20,425.61 L66.40,423.29 L67.60,425.63 L68.80,423.54 L70.00,427.65 L71.00,424.53 L72.00,426.12 L73.00,424.35 L74.00,427.90 L75.00,425.01 L76.00,426.46 L77.00,424.90 L78.00,428.55 L79.00,426.73 L80.00,428.23 L81.00,426.27 L82.00,428.79 L83.00,425.69 L84.00,426.05 L85.00,423.90 L86.00,426.90 L87.00,425.04 L88.00,425.70 L89.15,423.37 L90.30,423.41 L91.65,416.97 L93.00,418.21 L94.00,410.89 L95.00,412.93 L96.00,405.50 L97.00,401.43 L98.00,391.64 L99.00,392.58 L100.00,387.31 L101.00,385.98 L102.00,377.58 L103.10,381.48 L104.20,370.92 L105.40,372.30 L106.50,370.20 L108.00,382.72 L109.00,386.38 L110.00,398.86 L111.25,399.91 L112.50,413.00 L113.75,418.49 L115.00,425.08 L116.00,425.03 L117.00,427.66 L118.00,427.80 L119.15,428.67 L120.30,428.90 L121.45,430.46 L122.60,430.70 L123.66,430.70 L124.71,430.70 L125.77,430.70 L126.82,430.70 L127.88,430.70 L128.94,430.70 L129.99,430.70 L131.05,430.70 L132.11,430.70 L133.16,430.70 L134.22,430.70 L135.28,430.70 L136.33,430.70 L137.39,430.70 L138.44,430.70 L139.50,430.70 L139.50,430.80 L33.80,430.80 Z" fill="#e9e3f3"/>
<path d="M33.80,472.00 L34.80,472.00 L35.80,472.00 L36.80,472.00 L37.80,472.00 L38.80,472.00 L39.80,472.00 L40.80,472.00 L41.80,472.00 L42.80,472.00 L43.80,472.00 L44.80,472.00 L45.80,472.00 L46.80,472.00 L47.80,472.00 L48.80,472.00 L49.80,472.00 L51.50,464.80 L52.60,446.06 L53.70,428.01 L54.75,414.94 L55.80,402.27 L57.60,394.53 L58.80,398.07 L60.20,417.00 L61.25,435.62 L62.30,453.99 L63.37,458.75 L64.43,463.12 L65.50,468.05 L66.60,468.92 L67.70,470.11 L68.73,470.02 L69.75,470.09 L70.78,470.06 L71.80,470.20 L72.83,470.20 L73.85,470.28 L74.88,470.24 L75.90,470.35 L76.92,470.34 L77.95,470.50 L78.97,470.42 L80.00,470.56 L81.00,470.47 L82.00,470.53 L83.00,470.44 L84.00,470.52 L85.00,470.47 L86.00,470.52 L87.00,470.48 L88.00,470.52 L89.00,470.49 L90.00,470.50 L91.00,470.48 L92.00,470.51 L93.00,470.47 L94.00,470.56 L95.00,470.48 L96.00,470.34 L97.00,470.05 L98.00,469.99 L99.00,469.68 L100.00,469.57 L101.08,469.24 L102.15,469.12 L103.22,468.83 L104.30,468.73 L105.53,468.94 L106.77,469.33 L108.00,469.47 L109.00,469.93 L110.00,470.24 L111.00,470.67 L112.00,470.99 L113.02,471.07 L114.04,471.05 L115.06,471.14 L116.07,471.12 L117.09,471.23 L118.11,471.22 L119.13,471.26 L120.15,471.30 L121.17,471.33 L122.19,471.37 L123.20,471.41 L124.22,471.44 L125.24,471.48 L126.26,471.52 L127.28,471.56 L128.30,471.59 L129.31,471.63 L130.33,471.67 L131.35,471.70 L132.37,471.74 L133.39,471.78 L134.41,471.81 L135.43,471.85 L136.44,471.89 L137.46,471.93 L138.48,471.96 L139.50,472.00 L139.50,471.80 L33.80,471.80 Z" fill="#f5dada" fill-opacity="0.85"/>
<path d="M33.80,513.40 L34.83,513.33 L35.87,513.27 L36.90,513.20 L37.93,513.13 L38.97,513.07 L40.00,513.00 L41.00,512.98 L42.00,511.67 L43.00,511.93 L44.00,510.87 L45.00,511.79 L46.10,508.00 L47.20,508.58 L48.30,504.27 L49.40,504.64 L50.70,497.82 L52.00,495.55 L53.10,483.07 L54.20,487.91 L55.40,479.37 L56.50,487.56 L58.00,484.89 L59.00,491.77 L60.00,489.31 L61.00,498.25 L62.17,492.54 L63.33,500.79 L64.50,499.60 L65.60,501.83 L66.70,500.72 L67.80,503.36 L68.90,501.05 L70.00,504.62 L71.00,502.95 L72.00,505.15 L73.00,504.69 L74.00,507.63 L75.00,504.20 L76.12,505.30 L77.23,503.84 L78.35,506.76 L79.47,504.83 L80.58,508.38 L81.70,505.31 L82.78,505.99 L83.85,503.43 L84.92,504.60 L86.00,500.26 L87.08,501.21 L88.15,495.38 L89.22,495.43 L90.30,491.40 L91.38,486.68 L92.45,480.60 L93.52,478.77 L94.60,469.11 L95.80,464.86 L97.00,459.02 L98.90,451.47 L100.00,444.52 L101.20,452.79 L102.50,446.80 L103.50,444.03 L104.50,450.62 L105.40,444.87 L106.20,434.69 L107.00,449.68 L108.20,463.94 L110.00,487.24 L111.80,492.00 L112.87,500.96 L113.93,500.56 L115.00,505.53 L116.10,506.18 L117.20,509.05 L118.30,508.36 L119.38,511.78 L120.45,511.08 L121.52,512.79 L122.60,513.40 L123.66,513.40 L124.71,513.40 L125.77,513.40 L126.82,513.40 L127.88,513.40 L128.94,513.40 L129.99,513.40 L131.05,513.40 L132.11,513.40 L133.16,513.40 L134.22,513.40 L135.28,513.40 L136.33,513.40 L137.39,513.40 L138.44,513.40 L139.50,513.40 L139.50,513.40 L33.80,513.40 Z" fill="#deeaf8" fill-opacity="0.9"/>
<path d="M33.80,430.70 L34.82,430.70 L35.83,430.70 L36.85,430.70 L37.86,430.70 L38.88,430.70 L39.89,430.70 L40.91,430.70 L41.92,430.70 L42.94,430.70 L43.95,430.70 L44.97,430.70 L45.98,430.70 L47.00,430.70 L48.00,427.08 L49.00,427.08 L50.80,406.76 L52.50,393.43 L53.80,375.43 L54.90,361.35 L55.70,370.02 L56.90,354.85 L57.70,362.32 L58.50,391.96 L59.60,388.22 L60.80,386.63 L61.80,393.77 L62.90,410.46 L64.00,417.01 L65.20,425.61 L66.40,423.29 L67.60,425.63 L68.80,423.54 L70.00,427.65 L71.00,424.53 L72.00,426.12 L73.00,424.35 L74.00,427.90 L75.00,425.01 L76.00,426.46 L77.00,424.90 L78.00,428.55 L79.00,426.73 L80.00,428.23 L81.00,426.27 L82.00,428.79 L83.00,425.69 L84.00,426.05 L85.00,423.90 L86.00,426.90 L87.00,425.04 L88.00,425.70 L89.15,423.37 L90.30,423.41 L91.65,416.97 L93.00,418.21 L94.00,410.89 L95.00,412.93 L96.00,405.50 L97.00,401.43 L98.00,391.64 L99.00,392.58 L100.00,387.31 L101.00,385.98 L102.00,377.58 L103.10,381.48 L104.20,370.92 L105.40,372.30 L106.50,370.20 L108.00,382.72 L109.00,386.38 L110.00,398.86 L111.25,399.91 L112.50,413.00 L113.75,418.49 L115.00,425.08 L116.00,425.03 L117.00,427.66 L118.00,427.80 L119.15,428.67 L120.30,428.90 L121.45,430.46 L122.60,430.70 L123.66,430.70 L124.71,430.70 L125.77,430.70 L126.82,430.70 L127.88,430.70 L128.94,430.70 L129.99,430.70 L131.05,430.70 L132.11,430.70 L133.16,430.70 L134.22,430.70 L135.28,430.70 L136.33,430.70 L137.39,430.70 L138.44,430.70 L139.50,430.70" fill="none" stroke="#40229a" stroke-width="1.35" stroke-linejoin="round"/>
<path d="M33.80,472.00 L34.80,472.00 L35.80,472.00 L36.80,472.00 L37.80,472.00 L38.80,472.00 L39.80,472.00 L40.80,472.00 L41.80,472.00 L42.80,472.00 L43.80,472.00 L44.80,472.00 L45.80,472.00 L46.80,472.00 L47.80,472.00 L48.80,472.00 L49.80,472.00 L51.50,464.80 L52.60,446.06 L53.70,428.01 L54.75,414.94 L55.80,402.27 L57.60,394.53 L58.80,398.07 L60.20,417.00 L61.25,435.62 L62.30,453.99 L63.37,458.75 L64.43,463.12 L65.50,468.05 L66.60,468.92 L67.70,470.11 L68.73,470.02 L69.75,470.09 L70.78,470.06 L71.80,470.20 L72.83,470.20 L73.85,470.28 L74.88,470.24 L75.90,470.35 L76.92,470.34 L77.95,470.50 L78.97,470.42 L80.00,470.56 L81.00,470.47 L82.00,470.53 L83.00,470.44 L84.00,470.52 L85.00,470.47 L86.00,470.52 L87.00,470.48 L88.00,470.52 L89.00,470.49 L90.00,470.50 L91.00,470.48 L92.00,470.51 L93.00,470.47 L94.00,470.56 L95.00,470.48 L96.00,470.34 L97.00,470.05 L98.00,469.99 L99.00,469.68 L100.00,469.57 L101.08,469.24 L102.15,469.12 L103.22,468.83 L104.30,468.73 L105.53,468.94 L106.77,469.33 L108.00,469.47 L109.00,469.93 L110.00,470.24 L111.00,470.67 L112.00,470.99 L113.02,471.07 L114.04,471.05 L115.06,471.14 L116.07,471.12 L117.09,471.23 L118.11,471.22 L119.13,471.26 L120.15,471.30 L121.17,471.33 L122.19,471.37 L123.20,471.41 L124.22,471.44 L125.24,471.48 L126.26,471.52 L127.28,471.56 L128.30,471.59 L129.31,471.63 L130.33,471.67 L131.35,471.70 L132.37,471.74 L133.39,471.78 L134.41,471.81 L135.43,471.85 L136.44,471.89 L137.46,471.93 L138.48,471.96 L139.50,472.00" fill="none" stroke="#9a2020" stroke-width="0.95"/>
<path d="M33.80,513.40 L34.83,513.33 L35.87,513.27 L36.90,513.20 L37.93,513.13 L38.97,513.07 L40.00,513.00 L41.00,512.98 L42.00,511.67 L43.00,511.93 L44.00,510.87 L45.00,511.79 L46.10,508.00 L47.20,508.58 L48.30,504.27 L49.40,504.64 L50.70,497.82 L52.00,495.55 L53.10,483.07 L54.20,487.91 L55.40,479.37 L56.50,487.56 L58.00,484.89 L59.00,491.77 L60.00,489.31 L61.00,498.25 L62.17,492.54 L63.33,500.79 L64.50,499.60 L65.60,501.83 L66.70,500.72 L67.80,503.36 L68.90,501.05 L70.00,504.62 L71.00,502.95 L72.00,505.15 L73.00,504.69 L74.00,507.63 L75.00,504.20 L76.12,505.30 L77.23,503.84 L78.35,506.76 L79.47,504.83 L80.58,508.38 L81.70,505.31 L82.78,505.99 L83.85,503.43 L84.92,504.60 L86.00,500.26 L87.08,501.21 L88.15,495.38 L89.22,495.43 L90.30,491.40 L91.38,486.68 L92.45,480.60 L93.52,478.77 L94.60,469.11 L95.80,464.86 L97.00,459.02 L98.90,451.47 L100.00,444.52 L101.20,452.79 L102.50,446.80 L103.50,444.03 L104.50,450.62 L105.40,444.87 L106.20,434.69 L107.00,449.68 L108.20,463.94 L110.00,487.24 L111.80,492.00 L112.87,500.96 L113.93,500.56 L115.00,505.53 L116.10,506.18 L117.20,509.05 L118.30,508.36 L119.38,511.78 L120.45,511.08 L121.52,512.79 L122.60,513.40 L123.66,513.40 L124.71,513.40 L125.77,513.40 L126.82,513.40 L127.88,513.40 L128.94,513.40 L129.99,513.40 L131.05,513.40 L132.11,513.40 L133.16,513.40 L134.22,513.40 L135.28,513.40 L136.33,513.40 L137.39,513.40 L138.44,513.40 L139.50,513.40" fill="none" stroke="#2374d2" stroke-width="1.35" stroke-linejoin="round"/>
<path d="M33.80,555.50 L34.81,555.44 L35.82,555.39 L36.83,555.33 L37.84,555.28 L38.86,555.22 L39.87,555.17 L40.88,555.11 L41.89,555.06 L42.90,555.00 L43.98,551.47 L45.05,548.58 L46.12,544.14 L47.20,541.73 L48.30,531.38 L49.40,523.10 L50.50,512.54 L51.55,503.27 L52.60,491.31 L54.00,488.82 L55.40,484.38 L56.70,491.92 L58.00,497.62 L59.10,510.90 L60.20,522.52 L61.25,533.43 L62.30,540.64 L63.38,544.37 L64.45,546.64 L65.52,550.01 L66.60,552.70 L67.68,553.28 L68.76,553.36 L69.84,553.69 L70.92,553.50 L72.00,554.02 L73.08,553.96 L74.16,554.47 L75.24,554.52 L76.32,554.80 L77.40,555.00 L78.40,555.01 L79.40,555.02 L80.40,555.02 L81.41,555.03 L82.41,555.04 L83.41,555.05 L84.41,555.06 L85.41,555.06 L86.41,555.07 L87.42,555.08 L88.42,555.09 L89.42,555.10 L90.42,555.10 L91.42,555.11 L92.42,555.12 L93.43,555.13 L94.43,555.14 L95.43,555.15 L96.43,555.15 L97.43,555.16 L98.43,555.17 L99.44,555.18 L100.44,555.19 L101.44,555.19 L102.44,555.20 L103.44,555.21 L104.44,555.22 L105.45,555.23 L106.45,555.23 L107.45,555.24 L108.45,555.25 L109.45,555.26 L110.45,555.27 L111.45,555.27 L112.46,555.28 L113.46,555.29 L114.46,555.30 L115.46,555.31 L116.46,555.31 L117.46,555.32 L118.47,555.33 L119.47,555.34 L120.47,555.35 L121.47,555.35 L122.47,555.36 L123.47,555.37 L124.48,555.38 L125.48,555.39 L126.48,555.40 L127.48,555.40 L128.48,555.41 L129.48,555.42 L130.49,555.43 L131.49,555.44 L132.49,555.44 L133.49,555.45 L134.49,555.46 L135.49,555.47 L136.50,555.48 L137.50,555.48 L138.50,555.49 L139.50,555.50" fill="none" stroke="#767676" stroke-width="0.8"/>
<rect x="33.7" y="350.3" width="105.90" height="207.00" fill="none" stroke="#7a7a7a" stroke-width="1.2"/>
<line x1="33.10" y1="557.30" x2="140.20" y2="557.30" stroke="#333" stroke-width="1.2"/>
<line x1="32.10" y1="360.40" x2="33.70" y2="360.40" stroke="#777" stroke-width="0.8"/>
<line x1="32.10" y1="400.40" x2="33.70" y2="400.40" stroke="#777" stroke-width="0.8"/>
<line x1="32.10" y1="440.00" x2="33.70" y2="440.00" stroke="#777" stroke-width="0.8"/>
<line x1="32.10" y1="480.00" x2="33.70" y2="480.00" stroke="#777" stroke-width="0.8"/>
<line x1="32.10" y1="520.00" x2="33.70" y2="520.00" stroke="#777" stroke-width="0.8"/>
<line x1="38.11" y1="557.30" x2="38.11" y2="558.90" stroke="#999" stroke-width="0.5"/>
<line x1="42.53" y1="557.30" x2="42.53" y2="558.90" stroke="#999" stroke-width="0.5"/>
<line x1="46.94" y1="557.30" x2="46.94" y2="558.90" stroke="#999" stroke-width="0.5"/>
<line x1="51.35" y1="557.30" x2="51.35" y2="558.90" stroke="#999" stroke-width="0.5"/>
<line x1="55.76" y1="557.30" x2="55.76" y2="558.90" stroke="#999" stroke-width="0.5"/>
<line x1="60.17" y1="557.30" x2="60.17" y2="558.90" stroke="#999" stroke-width="0.5"/>
<line x1="64.59" y1="557.30" x2="64.59" y2="558.90" stroke="#999" stroke-width="0.5"/>
<line x1="69.00" y1="557.30" x2="69.00" y2="558.90" stroke="#999" stroke-width="0.5"/>
<line x1="73.41" y1="557.30" x2="73.41" y2="558.90" stroke="#999" stroke-width="0.5"/>
<line x1="77.83" y1="557.30" x2="77.83" y2="558.90" stroke="#999" stroke-width="0.5"/>
<line x1="82.24" y1="557.30" x2="82.24" y2="558.90" stroke="#999" stroke-width="0.5"/>
<line x1="86.65" y1="557.30" x2="86.65" y2="558.90" stroke="#999" stroke-width="0.5"/>
<line x1="91.06" y1="557.30" x2="91.06" y2="558.90" stroke="#999" stroke-width="0.5"/>
<line x1="95.47" y1="557.30" x2="95.47" y2="558.90" stroke="#999" stroke-width="0.5"/>
<line x1="99.89" y1="557.30" x2="99.89" y2="558.90" stroke="#999" stroke-width="0.5"/>
<line x1="104.30" y1="557.30" x2="104.30" y2="558.90" stroke="#999" stroke-width="0.5"/>
<line x1="108.71" y1="557.30" x2="108.71" y2="558.90" stroke="#999" stroke-width="0.5"/>
<line x1="113.12" y1="557.30" x2="113.12" y2="558.90" stroke="#999" stroke-width="0.5"/>
<line x1="117.54" y1="557.30" x2="117.54" y2="558.90" stroke="#999" stroke-width="0.5"/>
<line x1="121.95" y1="557.30" x2="121.95" y2="558.90" stroke="#999" stroke-width="0.5"/>
<line x1="126.36" y1="557.30" x2="126.36" y2="558.90" stroke="#999" stroke-width="0.5"/>
<line x1="130.77" y1="557.30" x2="130.77" y2="558.90" stroke="#999" stroke-width="0.5"/>
<line x1="135.19" y1="557.30" x2="135.19" y2="558.90" stroke="#999" stroke-width="0.5"/>
<path d="M147.70,430.50 L148.92,430.21 L150.15,428.44 L151.38,429.28 L152.60,426.70 L153.70,427.81 L154.80,425.80 L155.90,426.07 L157.00,421.98 L158.10,423.51 L159.20,420.16 L160.28,423.89 L161.37,418.86 L162.45,419.22 L163.53,413.01 L164.62,416.86 L165.70,413.97 L166.80,412.29 L167.90,404.13 L169.00,402.20 L170.10,392.97 L171.20,399.86 L172.30,390.92 L173.40,397.85 L174.50,388.60 L175.60,390.34 L176.70,382.15 L177.80,397.21 L178.90,391.90 L180.00,400.69 L181.10,389.04 L182.20,390.17 L183.30,392.55 L184.40,401.83 L185.50,400.87 L186.60,408.89 L187.70,408.63 L188.80,414.78 L189.90,417.67 L190.98,420.80 L192.07,418.48 L193.15,422.46 L194.23,420.15 L195.32,425.71 L196.40,423.21 L197.50,424.60 L198.60,417.54 L199.70,421.16 L200.80,413.82 L201.90,416.49 L203.00,409.49 L204.10,408.79 L205.20,394.74 L206.30,397.28 L207.40,384.71 L208.50,380.61 L209.60,369.06 L211.30,353.96 L212.60,359.73 L214.00,370.41 L215.70,362.84 L217.05,378.04 L218.40,376.55 L219.47,390.98 L220.53,390.38 L221.60,405.04 L222.70,403.82 L223.80,418.32 L224.90,420.20 L226.00,425.38 L227.10,423.99 L228.20,429.39 L229.30,430.90 L230.33,430.90 L231.36,430.90 L232.40,430.90 L233.43,430.90 L234.46,430.90 L235.49,430.90 L236.53,430.90 L237.56,430.90 L238.59,430.90 L239.62,430.90 L240.65,430.90 L241.69,430.90 L242.72,430.90 L243.75,430.90 L244.78,430.90 L245.81,430.90 L246.85,430.90 L247.88,430.90 L248.91,430.90 L249.94,430.90 L250.97,430.90 L252.01,430.90 L253.04,430.90 L254.07,430.90 L255.10,430.90 L256.14,430.90 L257.17,430.90 L258.20,430.90 L258.20,430.80 L147.70,430.80 Z" fill="#e9e3f3"/>
<path d="M147.70,470.31 L148.92,469.22 L150.15,467.89 L151.38,466.81 L152.60,465.33 L153.70,463.21 L154.80,460.52 L155.90,458.37 L157.00,455.45 L158.10,453.50 L159.20,450.64 L160.28,448.15 L161.37,444.68 L162.45,442.34 L163.53,438.84 L164.62,436.34 L165.70,433.13 L166.80,430.28 L167.90,426.62 L169.00,423.53 L170.10,420.02 L171.20,416.92 L172.30,413.31 L173.40,410.94 L174.50,407.64 L175.60,405.42 L176.70,402.39 L177.80,400.95 L178.90,398.78 L180.00,397.44 L181.10,395.38 L182.20,394.05 L183.30,396.75 L184.40,400.43 L185.50,403.25 L186.60,407.07 L187.70,414.03 L188.80,421.50 L189.90,428.66 L190.97,433.92 L192.05,438.36 L193.12,443.87 L194.20,448.31 L195.30,451.90 L196.40,454.59 L197.50,458.05 L198.60,460.76 L199.70,464.00 L200.80,464.90 L201.90,466.24 L203.00,467.18 L204.10,468.37 L205.20,469.39 L206.30,468.61 L207.40,467.77 L208.50,466.95 L209.60,466.03 L210.70,464.94 L211.80,463.44 L212.90,462.34 L214.00,460.94 L215.10,463.28 L216.20,465.10 L217.30,467.28 L218.37,468.50 L219.43,469.92 L220.50,471.16 L221.52,471.21 L222.54,471.22 L223.56,471.23 L224.58,471.24 L225.59,471.25 L226.61,471.26 L227.63,471.28 L228.65,471.29 L229.67,471.30 L230.69,471.31 L231.71,471.32 L232.73,471.33 L233.75,471.34 L234.76,471.35 L235.78,471.36 L236.80,471.37 L237.82,471.38 L238.84,471.39 L239.86,471.41 L240.88,471.42 L241.90,471.43 L242.92,471.44 L243.94,471.45 L244.95,471.46 L245.97,471.47 L246.99,471.48 L248.01,471.49 L249.03,471.50 L250.05,471.51 L251.07,471.52 L252.09,471.54 L253.11,471.55 L254.12,471.56 L255.14,471.57 L256.16,471.58 L257.18,471.59 L258.20,471.60 L258.20,471.80 L147.70,471.80 Z" fill="#f5dada" fill-opacity="0.85"/>
<path d="M147.70,512.17 L148.73,512.97 L149.77,511.19 L150.80,512.05 L151.83,510.81 L152.87,511.28 L153.90,509.90 L154.93,511.32 L155.97,509.00 L157.00,509.70 L158.09,507.33 L159.18,509.94 L160.27,505.37 L161.36,508.87 L162.45,505.37 L163.54,506.44 L164.63,504.50 L165.72,506.65 L166.81,501.98 L167.90,504.35 L169.00,499.99 L170.10,502.15 L171.20,500.58 L172.30,503.39 L173.40,498.17 L174.50,499.90 L175.60,495.36 L176.70,497.77 L177.80,494.42 L178.90,499.34 L180.00,494.97 L181.10,499.51 L182.20,495.70 L183.30,495.61 L184.40,495.10 L185.50,498.61 L186.60,491.78 L187.70,497.43 L188.80,489.68 L189.90,496.88 L190.99,490.59 L192.07,494.18 L193.16,489.68 L194.25,492.70 L195.34,488.93 L196.43,495.58 L197.51,490.39 L198.60,495.77 L199.70,490.30 L200.80,495.14 L201.90,485.84 L203.00,492.96 L204.10,478.75 L205.20,479.23 L206.30,469.23 L207.40,472.93 L208.50,463.78 L209.60,462.27 L210.70,450.43 L211.80,455.01 L212.90,443.97 L214.50,441.82 L215.70,433.61 L216.80,446.35 L218.40,453.60 L219.45,466.44 L220.50,472.29 L221.60,483.18 L222.70,487.50 L223.80,500.08 L224.90,501.86 L226.00,508.33 L227.10,509.53 L228.20,513.02 L229.20,512.04 L230.20,513.40 L231.20,512.20 L232.20,512.81 L233.20,512.83 L234.20,512.86 L235.20,512.89 L236.20,512.91 L237.20,512.94 L238.20,512.97 L239.20,512.99 L240.20,513.02 L241.20,513.05 L242.20,513.07 L243.20,513.10 L244.20,513.13 L245.20,513.15 L246.20,513.18 L247.20,513.21 L248.20,513.23 L249.20,513.26 L250.20,513.29 L251.20,513.31 L252.20,513.34 L253.20,513.37 L254.20,513.39 L255.20,513.42 L256.20,513.45 L257.20,513.47 L258.20,513.50 L258.20,513.40 L147.70,513.40 Z" fill="#deeaf8" fill-opacity="0.9"/>
<path d="M147.70,430.50 L148.92,430.21 L150.15,428.44 L151.38,429.28 L152.60,426.70 L153.70,427.81 L154.80,425.80 L155.90,426.07 L157.00,421.98 L158.10,423.51 L159.20,420.16 L160.28,423.89 L161.37,418.86 L162.45,419.22 L163.53,413.01 L164.62,416.86 L165.70,413.97 L166.80,412.29 L167.90,404.13 L169.00,402.20 L170.10,392.97 L171.20,399.86 L172.30,390.92 L173.40,397.85 L174.50,388.60 L175.60,390.34 L176.70,382.15 L177.80,397.21 L178.90,391.90 L180.00,400.69 L181.10,389.04 L182.20,390.17 L183.30,392.55 L184.40,401.83 L185.50,400.87 L186.60,408.89 L187.70,408.63 L188.80,414.78 L189.90,417.67 L190.98,420.80 L192.07,418.48 L193.15,422.46 L194.23,420.15 L195.32,425.71 L196.40,423.21 L197.50,424.60 L198.60,417.54 L199.70,421.16 L200.80,413.82 L201.90,416.49 L203.00,409.49 L204.10,408.79 L205.20,394.74 L206.30,397.28 L207.40,384.71 L208.50,380.61 L209.60,369.06 L211.30,353.96 L212.60,359.73 L214.00,370.41 L215.70,362.84 L217.05,378.04 L218.40,376.55 L219.47,390.98 L220.53,390.38 L221.60,405.04 L222.70,403.82 L223.80,418.32 L224.90,420.20 L226.00,425.38 L227.10,423.99 L228.20,429.39 L229.30,430.90 L230.33,430.90 L231.36,430.90 L232.40,430.90 L233.43,430.90 L234.46,430.90 L235.49,430.90 L236.53,430.90 L237.56,430.90 L238.59,430.90 L239.62,430.90 L240.65,430.90 L241.69,430.90 L242.72,430.90 L243.75,430.90 L244.78,430.90 L245.81,430.90 L246.85,430.90 L247.88,430.90 L248.91,430.90 L249.94,430.90 L250.97,430.90 L252.01,430.90 L253.04,430.90 L254.07,430.90 L255.10,430.90 L256.14,430.90 L257.17,430.90 L258.20,430.90" fill="none" stroke="#40229a" stroke-width="1.35" stroke-linejoin="round"/>
<path d="M147.70,470.31 L148.92,469.22 L150.15,467.89 L151.38,466.81 L152.60,465.33 L153.70,463.21 L154.80,460.52 L155.90,458.37 L157.00,455.45 L158.10,453.50 L159.20,450.64 L160.28,448.15 L161.37,444.68 L162.45,442.34 L163.53,438.84 L164.62,436.34 L165.70,433.13 L166.80,430.28 L167.90,426.62 L169.00,423.53 L170.10,420.02 L171.20,416.92 L172.30,413.31 L173.40,410.94 L174.50,407.64 L175.60,405.42 L176.70,402.39 L177.80,400.95 L178.90,398.78 L180.00,397.44 L181.10,395.38 L182.20,394.05 L183.30,396.75 L184.40,400.43 L185.50,403.25 L186.60,407.07 L187.70,414.03 L188.80,421.50 L189.90,428.66 L190.97,433.92 L192.05,438.36 L193.12,443.87 L194.20,448.31 L195.30,451.90 L196.40,454.59 L197.50,458.05 L198.60,460.76 L199.70,464.00 L200.80,464.90 L201.90,466.24 L203.00,467.18 L204.10,468.37 L205.20,469.39 L206.30,468.61 L207.40,467.77 L208.50,466.95 L209.60,466.03 L210.70,464.94 L211.80,463.44 L212.90,462.34 L214.00,460.94 L215.10,463.28 L216.20,465.10 L217.30,467.28 L218.37,468.50 L219.43,469.92 L220.50,471.16 L221.52,471.21 L222.54,471.22 L223.56,471.23 L224.58,471.24 L225.59,471.25 L226.61,471.26 L227.63,471.28 L228.65,471.29 L229.67,471.30 L230.69,471.31 L231.71,471.32 L232.73,471.33 L233.75,471.34 L234.76,471.35 L235.78,471.36 L236.80,471.37 L237.82,471.38 L238.84,471.39 L239.86,471.41 L240.88,471.42 L241.90,471.43 L242.92,471.44 L243.94,471.45 L244.95,471.46 L245.97,471.47 L246.99,471.48 L248.01,471.49 L249.03,471.50 L250.05,471.51 L251.07,471.52 L252.09,471.54 L253.11,471.55 L254.12,471.56 L255.14,471.57 L256.16,471.58 L257.18,471.59 L258.20,471.60" fill="none" stroke="#9a2020" stroke-width="0.95"/>
<path d="M147.70,512.17 L148.73,512.97 L149.77,511.19 L150.80,512.05 L151.83,510.81 L152.87,511.28 L153.90,509.90 L154.93,511.32 L155.97,509.00 L157.00,509.70 L158.09,507.33 L159.18,509.94 L160.27,505.37 L161.36,508.87 L162.45,505.37 L163.54,506.44 L164.63,504.50 L165.72,506.65 L166.81,501.98 L167.90,504.35 L169.00,499.99 L170.10,502.15 L171.20,500.58 L172.30,503.39 L173.40,498.17 L174.50,499.90 L175.60,495.36 L176.70,497.77 L177.80,494.42 L178.90,499.34 L180.00,494.97 L181.10,499.51 L182.20,495.70 L183.30,495.61 L184.40,495.10 L185.50,498.61 L186.60,491.78 L187.70,497.43 L188.80,489.68 L189.90,496.88 L190.99,490.59 L192.07,494.18 L193.16,489.68 L194.25,492.70 L195.34,488.93 L196.43,495.58 L197.51,490.39 L198.60,495.77 L199.70,490.30 L200.80,495.14 L201.90,485.84 L203.00,492.96 L204.10,478.75 L205.20,479.23 L206.30,469.23 L207.40,472.93 L208.50,463.78 L209.60,462.27 L210.70,450.43 L211.80,455.01 L212.90,443.97 L214.50,441.82 L215.70,433.61 L216.80,446.35 L218.40,453.60 L219.45,466.44 L220.50,472.29 L221.60,483.18 L222.70,487.50 L223.80,500.08 L224.90,501.86 L226.00,508.33 L227.10,509.53 L228.20,513.02 L229.20,512.04 L230.20,513.40 L231.20,512.20 L232.20,512.81 L233.20,512.83 L234.20,512.86 L235.20,512.89 L236.20,512.91 L237.20,512.94 L238.20,512.97 L239.20,512.99 L240.20,513.02 L241.20,513.05 L242.20,513.07 L243.20,513.10 L244.20,513.13 L245.20,513.15 L246.20,513.18 L247.20,513.21 L248.20,513.23 L249.20,513.26 L250.20,513.29 L251.20,513.31 L252.20,513.34 L253.20,513.37 L254.20,513.39 L255.20,513.42 L256.20,513.45 L257.20,513.47 L258.20,513.50" fill="none" stroke="#2374d2" stroke-width="1.35" stroke-linejoin="round"/>
<path d="M147.70,553.94 L148.92,552.40 L150.15,547.99 L151.38,546.36 L152.60,542.04 L153.70,543.39 L154.80,536.96 L155.90,538.81 L157.00,532.38 L158.10,534.62 L159.20,528.73 L160.28,529.31 L161.37,521.11 L162.45,526.17 L163.53,520.03 L164.62,527.60 L165.70,519.67 L166.80,517.82 L167.90,513.46 L169.00,519.46 L170.10,506.65 L171.20,514.55 L172.30,506.37 L173.40,505.22 L174.50,500.77 L175.60,504.44 L176.70,497.23 L177.80,499.67 L178.90,491.65 L180.00,492.09 L181.90,474.29 L183.15,488.75 L184.40,490.40 L185.50,489.74 L186.60,482.89 L187.70,486.84 L188.80,486.29 L189.90,498.25 L190.95,503.34 L192.00,515.92 L193.10,519.86 L194.20,534.18 L195.30,535.24 L196.40,543.70 L197.50,547.95 L198.60,552.89 L199.70,551.17 L200.80,554.71 L201.81,553.76 L202.81,555.19 L203.82,554.09 L204.83,555.01 L205.84,553.78 L206.84,554.54 L207.85,554.48 L208.86,555.20 L209.86,553.62 L210.87,554.75 L211.88,554.56 L212.88,554.85 L213.89,554.16 L214.90,554.85 L215.91,553.74 L216.91,554.61 L217.92,553.96 L218.93,555.21 L219.93,553.94 L220.94,555.10 L221.95,554.07 L222.95,555.30 L223.96,553.95 L224.97,554.70 L225.98,554.71 L226.98,555.08 L227.99,554.52 L229.00,554.84 L230.00,554.71 L231.01,554.72 L232.02,554.73 L233.02,554.74 L234.03,554.75 L235.04,554.76 L236.05,554.77 L237.05,554.78 L238.06,554.79 L239.07,554.80 L240.07,554.81 L241.08,554.82 L242.09,554.83 L243.09,554.84 L244.10,554.85 L245.11,554.86 L246.12,554.87 L247.12,554.88 L248.13,554.89 L249.14,554.91 L250.14,554.92 L251.15,554.93 L252.16,554.94 L253.16,554.95 L254.17,554.96 L255.18,554.97 L256.19,554.98 L257.19,554.99 L258.20,555.00" fill="none" stroke="#767676" stroke-width="0.8"/>
<rect x="147.6" y="350.2" width="110.70" height="207.10" fill="none" stroke="#7a7a7a" stroke-width="1.2"/>
<line x1="147.00" y1="557.30" x2="258.90" y2="557.30" stroke="#333" stroke-width="1.2"/>
<line x1="146.00" y1="360.40" x2="147.60" y2="360.40" stroke="#777" stroke-width="0.8"/>
<line x1="146.00" y1="400.40" x2="147.60" y2="400.40" stroke="#777" stroke-width="0.8"/>
<line x1="146.00" y1="440.00" x2="147.60" y2="440.00" stroke="#777" stroke-width="0.8"/>
<line x1="146.00" y1="480.00" x2="147.60" y2="480.00" stroke="#777" stroke-width="0.8"/>
<line x1="146.00" y1="520.00" x2="147.60" y2="520.00" stroke="#777" stroke-width="0.8"/>
<line x1="152.21" y1="557.30" x2="152.21" y2="558.90" stroke="#999" stroke-width="0.5"/>
<line x1="156.82" y1="557.30" x2="156.82" y2="558.90" stroke="#999" stroke-width="0.5"/>
<line x1="161.44" y1="557.30" x2="161.44" y2="558.90" stroke="#999" stroke-width="0.5"/>
<line x1="166.05" y1="557.30" x2="166.05" y2="558.90" stroke="#999" stroke-width="0.5"/>
<line x1="170.66" y1="557.30" x2="170.66" y2="558.90" stroke="#999" stroke-width="0.5"/>
<line x1="175.28" y1="557.30" x2="175.28" y2="558.90" stroke="#999" stroke-width="0.5"/>
<line x1="179.89" y1="557.30" x2="179.89" y2="558.90" stroke="#999" stroke-width="0.5"/>
<line x1="184.50" y1="557.30" x2="184.50" y2="558.90" stroke="#999" stroke-width="0.5"/>
<line x1="189.11" y1="557.30" x2="189.11" y2="558.90" stroke="#999" stroke-width="0.5"/>
<line x1="193.72" y1="557.30" x2="193.72" y2="558.90" stroke="#999" stroke-width="0.5"/>
<line x1="198.34" y1="557.30" x2="198.34" y2="558.90" stroke="#999" stroke-width="0.5"/>
<line x1="202.95" y1="557.30" x2="202.95" y2="558.90" stroke="#999" stroke-width="0.5"/>
<line x1="207.56" y1="557.30" x2="207.56" y2="558.90" stroke="#999" stroke-width="0.5"/>
<line x1="212.18" y1="557.30" x2="212.18" y2="558.90" stroke="#999" stroke-width="0.5"/>
<line x1="216.79" y1="557.30" x2="216.79" y2="558.90" stroke="#999" stroke-width="0.5"/>
<line x1="221.40" y1="557.30" x2="221.40" y2="558.90" stroke="#999" stroke-width="0.5"/>
<line x1="226.01" y1="557.30" x2="226.01" y2="558.90" stroke="#999" stroke-width="0.5"/>
<line x1="230.62" y1="557.30" x2="230.62" y2="558.90" stroke="#999" stroke-width="0.5"/>
<line x1="235.24" y1="557.30" x2="235.24" y2="558.90" stroke="#999" stroke-width="0.5"/>
<line x1="239.85" y1="557.30" x2="239.85" y2="558.90" stroke="#999" stroke-width="0.5"/>
<line x1="244.46" y1="557.30" x2="244.46" y2="558.90" stroke="#999" stroke-width="0.5"/>
<line x1="249.08" y1="557.30" x2="249.08" y2="558.90" stroke="#999" stroke-width="0.5"/>
<line x1="253.69" y1="557.30" x2="253.69" y2="558.90" stroke="#999" stroke-width="0.5"/>
<g font-weight="bold" font-size="8.6"><text x="152" y="358.5" fill="#7f7f7f" textLength="40.4" lengthAdjust="spacingAndGlyphs">unstained</text><text x="152" y="368.3" fill="#5a2d9e" textLength="35.2" lengthAdjust="spacingAndGlyphs">IK1 + IK6</text><text x="152" y="378.1" fill="#b01818" textLength="12.8" lengthAdjust="spacingAndGlyphs">IK6</text><text x="152" y="388.0" fill="#2ea6dc" textLength="12.8" lengthAdjust="spacingAndGlyphs">IK1</text></g>
<line x1="15.9" y1="486" x2="15.9" y2="428" stroke="#111" stroke-width="1.1"/>
<polygon points="15.9,422.4 12.9,429.8 18.9,429.8" fill="#111"/>
<text transform="translate(19.0,555.0) rotate(-90)" font-size="8.4" fill="#111" stroke="#111" stroke-width="0.25" textLength="60" lengthAdjust="spacingAndGlyphs">Events (% max)</text>
<text x="31.9" y="573.9" font-size="9.07" font-weight="bold" font-style="normal" text-anchor="start" fill="#111" textLength="20.5" lengthAdjust="spacingAndGlyphs">CD14</text>
<line x1="60.00" y1="570.40" x2="94.40" y2="570.40" stroke="#111" stroke-width="1.1"/>
<polygon points="100.40,570.40 93.90,567.60 93.90,573.20" fill="#111"/>
<text x="149.2" y="573.9" font-size="9.07" font-weight="bold" font-style="normal" text-anchor="start" fill="#111" textLength="20.3" lengthAdjust="spacingAndGlyphs">CD15</text>
<line x1="175.80" y1="570.50" x2="209.70" y2="570.50" stroke="#111" stroke-width="1.1"/>
<polygon points="215.70,570.50 209.20,567.70 209.20,573.30" fill="#111"/>
</svg>
</body></html>
